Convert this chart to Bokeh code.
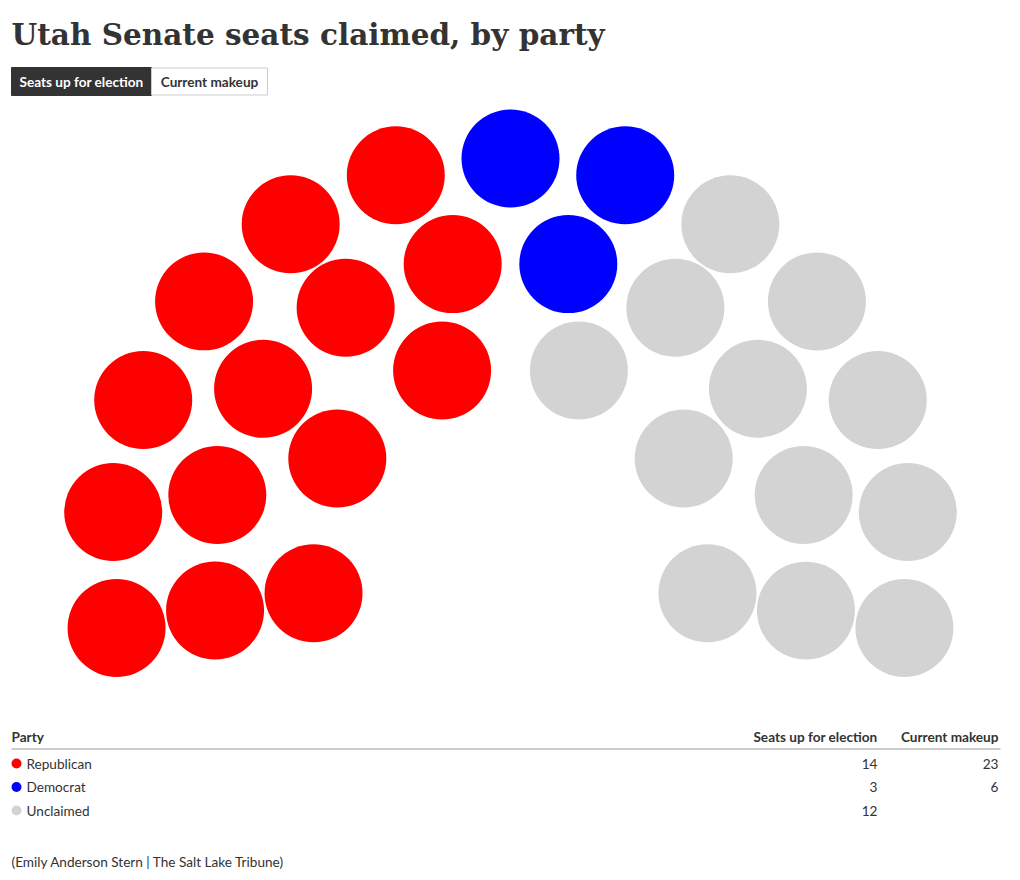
import numpy as np
from bokeh.plotting import figure
from bokeh.models import Range1d, ColumnDataSource
from bokeh.core.properties import value
from bokeh.embed import file_html
from bokeh.resources import INLINE

# ---- data ----
title = "Utah Senate seats claimed, by party"
tabs = ["Seats up for election", "Current makeup"]
parties = ["Republican", "Democrat", "Unclaimed"]
party_colors = ["#ff0000", "#0000ff", "#d3d3d3"]
seats_up = [14, 3, 12]
current_makeup = [23, 6, None]
credit = "(Emily Anderson Stern | The Salt Lake Tribune)"
seats_per_row = [6, 10, 13]  # inner -> outer

BODY = "Lato"
TITLE_FONT = "DejaVu Serif"
TXT = "#333333"
FS = "13.6px"

W, H = 1004, 872
p = figure(width=W, height=H, x_range=Range1d(0, W), y_range=Range1d(H, 0),
           output_backend="svg", toolbar_location=None, min_border=0)
p.axis.visible = False
p.grid.visible = False
p.outline_line_color = None
p.background_fill_color = "white"

# ---- title ----
p.text(x=[11], y=[34], text=[title], text_font=value(TITLE_FONT), text_font_size="29.5px",
       text_font_style="bold", text_color=TXT, text_baseline="middle")

# ---- tabs ----
p.quad(left=[11], right=[151], top=[67], bottom=[95], fill_color="#333333", line_color="#333333")
p.quad(left=[151], right=[267], top=[67.5], bottom=[94.5], fill_color="white", line_color="#cccccc")
p.text(x=[81, 209], y=[81, 81], text=tabs, text_font=value(BODY), text_font_size=FS,
       text_font_style="bold", text_color=["white", TXT], text_align="center", text_baseline="middle")

# ---- parliament seats ----
cx, cy = 510, 558
radii = [200, 300, 400]
seat_r = 49
ang, xs, ys = [], [], []
for n, r in zip(seats_per_row, radii):
    a = np.linspace(190, -10, n)
    ang.extend(a)
    xs.extend(cx + r * np.cos(np.radians(a)))
    ys.extend(cy - r * np.sin(np.radians(a)))
order = np.argsort(-np.array(ang), kind="stable")
seat_colors = []
for c, k in zip(party_colors, seats_up):
    seat_colors += [c] * k
src = ColumnDataSource(dict(x=np.array(xs)[order], y=np.array(ys)[order], c=seat_colors))
p.circle(x="x", y="y", radius=seat_r, fill_color="c", line_color=None, source=src)

# ---- table ----
hdr_y = 736
p.text(x=[11], y=[hdr_y], text=["Party"], text_font=value(BODY), text_font_size=FS,
       text_font_style="bold", text_color=TXT, text_baseline="middle")
p.text(x=[877, 998], y=[hdr_y, hdr_y], text=tabs, text_font=value(BODY), text_font_size=FS,
       text_font_style="bold", text_color=TXT, text_align="right", text_baseline="middle")
p.segment(x0=[11], y0=[748.5], x1=[1000], y1=[748.5], line_color="#999999", line_width=1)

row_y = [763, 786.5, 810]
p.circle(x=[16] * 3, y=row_y, radius=5, fill_color=party_colors, line_color=None)
p.text(x=[26] * 3, y=row_y, text=parties, text_font=value(BODY), text_font_size=FS,
       text_color=TXT, text_baseline="middle")
p.text(x=[877] * 3, y=row_y, text=[str(v) for v in seats_up], text_font=value(BODY),
       text_font_size=FS, text_color=TXT, text_align="right", text_baseline="middle")
p.text(x=[998] * 3, y=row_y, text=["" if v is None else str(v) for v in current_makeup],
       text_font=value(BODY), text_font_size=FS, text_color=TXT, text_align="right",
       text_baseline="middle")

# ---- credit ----
p.text(x=[11], y=[861.5], text=[credit], text_font=value(BODY), text_font_size=FS,
       text_color=TXT, text_baseline="middle")

open("out.html", "w").write(file_html(p, INLINE))
